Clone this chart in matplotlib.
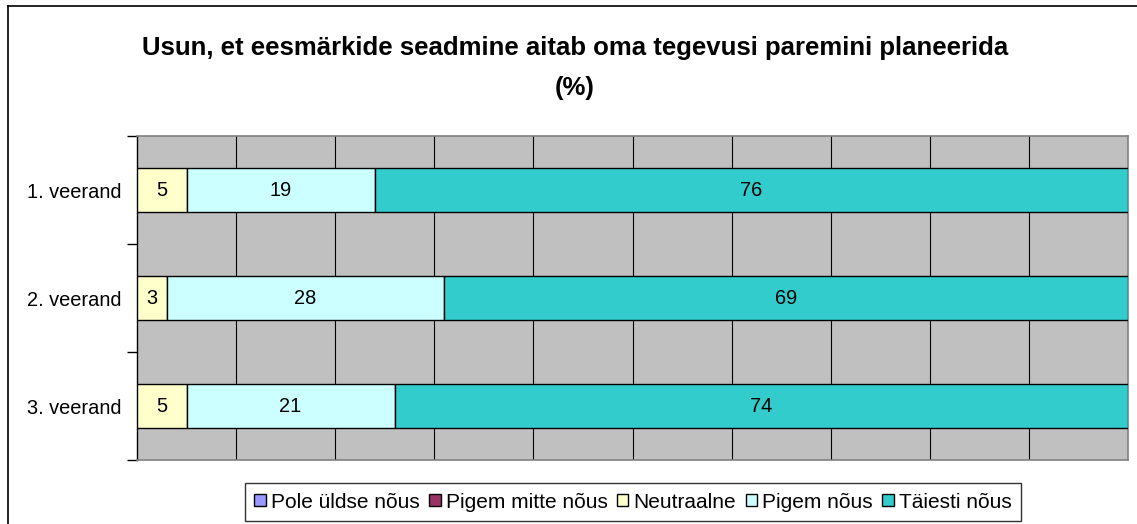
import matplotlib
matplotlib.use("Agg")
import matplotlib.pyplot as plt
import numpy as np

plt.rcParams['font.family'] = ['Liberation Sans', 'DejaVu Sans']

categories = ["1. veerand", "2. veerand", "3. veerand"]
series_names = ["Pole üldse nõus", "Pigem mitte nõus", "Neutraalne", "Pigem nõus", "Täiesti nõus"]
pole = [0, 0, 0]
pigem_mitte = [0, 0, 0]
neutraalne = [5, 3, 5]
pigem = [19, 28, 21]
taiesti = [76, 69, 74]
colors = ["#9999FF", "#993366", "#FFFFCC", "#CCFFFF", "#33CCCC"]
title = "Usun, et eesmärkide seadmine aitab oma tegevusi paremini planeerida\n(%)"

series = [pole, pigem_mitte, neutraalne, pigem, taiesti]

fig = plt.figure(figsize=(11.37, 5.24), dpi=100)
ax = fig.add_axes([137/1137, 64/524, 991/1137, 324/524])
ax.set_facecolor("#C0C0C0")

y = np.arange(len(categories))
left = np.zeros(len(categories))
handles = []
for name, vals, col in zip(series_names, series, colors):
    vals = np.array(vals, dtype=float)
    bars = ax.barh(y, vals, left=left, height=0.41, color=col, edgecolor="black",
                   linewidth=1.0, label=name, zorder=3)
    for b, v, l in zip(bars, vals, left):
        if v > 0:
            ax.text(l + v/2, b.get_y() + b.get_height()/2, f"{v:g}", ha="center", va="center",
                    fontsize=14.4, zorder=4)
    handles.append(bars)
    left += vals

ax.set_xlim(0, 100)
ax.set_ylim(2.5, -0.5)
ax.set_xticks(np.arange(10, 100, 10))
ax.tick_params(axis='x', length=0, labelbottom=False)
ax.grid(axis='x', color='black', linewidth=0.8, zorder=1)
ax.set_yticks(y)
ax.set_yticklabels(categories, fontsize=14.4)
ax.tick_params(axis='y', which='major', length=0, pad=11)
ax.set_yticks([-0.5, 0.5, 1.5, 2.5], minor=True)
ax.tick_params(axis='y', which='minor', length=7, width=1, color='black', direction='out')

for s in ['top', 'right', 'bottom']:
    ax.spines[s].set_color('#808080')
    ax.spines[s].set_linewidth(1.2)
ax.spines['left'].set_color('black')
ax.spines['left'].set_linewidth(1.0)

fig.text(575/1137, 1 - 68/524, title, ha='center', va='center', fontsize=18.5,
         fontweight='bold', linespacing=1.8)

leg = fig.legend(handles=handles, labels=series_names, loc='center', ncol=5,
                 bbox_to_anchor=(633/1137, 1 - 502/524), fontsize=15, frameon=True,
                 fancybox=False, edgecolor='black', handlelength=0.55, handleheight=0.55,
                 handletextpad=0.25, columnspacing=0.45, borderpad=0.45)
leg.get_frame().set_linewidth(1.0)

# outer chart border (left and top visible)
fig.add_artist(plt.Line2D([8/1137, 8/1137], [0, 1 - 6/524], transform=fig.transFigure,
                          color='black', linewidth=1.2))
fig.add_artist(plt.Line2D([8/1137, 1], [1 - 6/524, 1 - 6/524], transform=fig.transFigure,
                          color='black', linewidth=1.2))

fig.savefig("out.png", dpi=100)
